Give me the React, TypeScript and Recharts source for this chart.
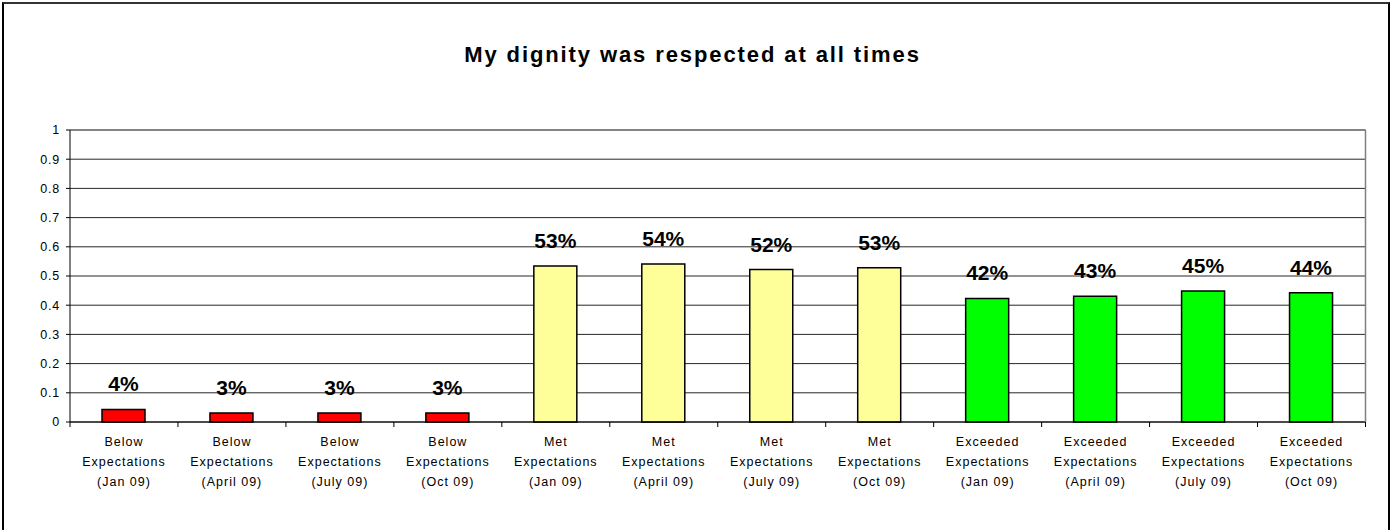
import React from "react";
import {
  BarChart,
  Bar,
  XAxis,
  YAxis,
  CartesianGrid,
  Cell,
  LabelList,
  ReferenceLine,
} from "recharts";

// ---- data ----
const groups = [
  "Below", "Below", "Below", "Below",
  "Met", "Met", "Met", "Met",
  "Exceeded", "Exceeded", "Exceeded", "Exceeded",
];
const periods = [
  "(Jan 09)", "(April 09)", "(July 09)", "(Oct 09)",
  "(Jan 09)", "(April 09)", "(July 09)", "(Oct 09)",
  "(Jan 09)", "(April 09)", "(July 09)", "(Oct 09)",
];
const values = [
  0.043, 0.031, 0.031, 0.031,
  0.534, 0.541, 0.522, 0.528,
  0.423, 0.431, 0.449, 0.443,
];
const yTicks = [0, 0.1, 0.2, 0.3, 0.4, 0.5, 0.6, 0.7, 0.8, 0.9, 1];
const title = "My dignity was respected at all times";

// ---- styles ----
const groupColors: Record<string, string> = {
  Below: "#FF0000",
  Met: "#FFFF99",
  Exceeded: "#00FF00",
};
const FONT = '"Liberation Sans", Arial, Helvetica, sans-serif';
const W = 1394;
const H = 530;
const PLOT_LEFT = 70;
const PLOT_RIGHT = 1365.5;
const PLOT_TOP = 130;
const PLOT_BOTTOM = 422;
const BAND = (PLOT_RIGHT - PLOT_LEFT) / groups.length;

const data = groups.map((g, i) => ({
  name: `${g}\nExpectations\n${periods[i]}`,
  group: g,
  value: values[i],
}));

const XTick = (props: any) => {
  const { x, y, payload, index } = props;
  const lines = String(payload.value).split("\n");
  const baselines = [24, 44, 63.5];
  return (
    <g>
      <line x1={x - BAND / 2} x2={x - BAND / 2} y1={y} y2={y + 5} stroke="#000" />
      {index === groups.length - 1 && (
        <line x1={x + BAND / 2} x2={x + BAND / 2} y1={y} y2={y + 5} stroke="#000" />
      )}
      {lines.map((l, i) => (
        <text
          key={i}
          x={x}
          y={y + baselines[i]}
          textAnchor="middle"
          fontFamily={FONT}
          fontSize={12.5}
          letterSpacing={1}
          fill="#000"
        >
          {l}
        </text>
      ))}
    </g>
  );
};

const BarLabel = (props: any) => {
  const { x, y, width, value } = props;
  return (
    <text
      x={x + width / 2}
      y={y - 18}
      textAnchor="middle"
      fontFamily={FONT}
      fontSize={21}
      fontWeight="bold"
      fill="#000"
    >
      {`${Math.round(value * 100)}%`}
    </text>
  );
};

export default function App() {
  return (
    <div
      style={{
        position: "absolute",
        left: 0,
        top: 0,
        width: W,
        height: H,
        overflow: "hidden",
        background: "#fff",
      }}
    >
      <div
        style={{
          position: "absolute",
          left: 2,
          top: 2,
          width: 1388,
          height: 600,
          boxSizing: "border-box",
          borderLeft: "2px solid #000",
          borderRight: "2px solid #000",
          borderTop: "2px solid #333",
        }}
      />
      <svg
        width={W}
        height={100}
        style={{ position: "absolute", left: 0, top: 0 }}
      >
        <text
          x={692.5}
          y={62}
          textAnchor="middle"
          fontFamily={FONT}
          fontSize={22}
          fontWeight="bold"
          letterSpacing={1.9}
          fill="#000"
        >
          {title}
        </text>
      </svg>
      <div style={{ position: "absolute", left: 0, top: 0 }}>
        <BarChart
          width={W}
          height={H}
          data={data}
          margin={{ top: PLOT_TOP, right: 0, bottom: 0, left: 0 }}
        >
          <CartesianGrid vertical={false} stroke="#000" strokeOpacity={0.85} />
          <XAxis
            dataKey="name"
            interval={0}
            height={H - PLOT_BOTTOM}
            tickLine={false}
            tickSize={0}
            tickMargin={0}
            axisLine={{ stroke: "#000" }}
            tick={<XTick />}
          />
          <YAxis
            domain={[0, 1]}
            ticks={yTicks}
            width={PLOT_LEFT}
            tickSize={4}
            tickMargin={6}
            axisLine={{ stroke: "#000" }}
            tickLine={{ stroke: "#000" }}
            tick={{ fontSize: 12.5, fill: "#000", fontFamily: FONT, letterSpacing: 0.8 }}
            interval={0}
          />
          <YAxis
            yAxisId="r"
            orientation="right"
            width={W - PLOT_RIGHT}
            domain={[0, 1]}
            tick={false}
            tickLine={false}
            axisLine={{ stroke: "#808080", strokeWidth: 1.5 }}
          />
          <ReferenceLine y={1} stroke="#808080" strokeWidth={1.5} />
          <Bar
            dataKey="value"
            barSize={43}
            stroke="#000"
            strokeWidth={1.5}
            isAnimationActive={false}
          >
            {data.map((d, i) => (
              <Cell key={i} fill={groupColors[d.group]} />
            ))}
            <LabelList dataKey="value" content={<BarLabel />} />
          </Bar>
        </BarChart>
      </div>
    </div>
  );
}
